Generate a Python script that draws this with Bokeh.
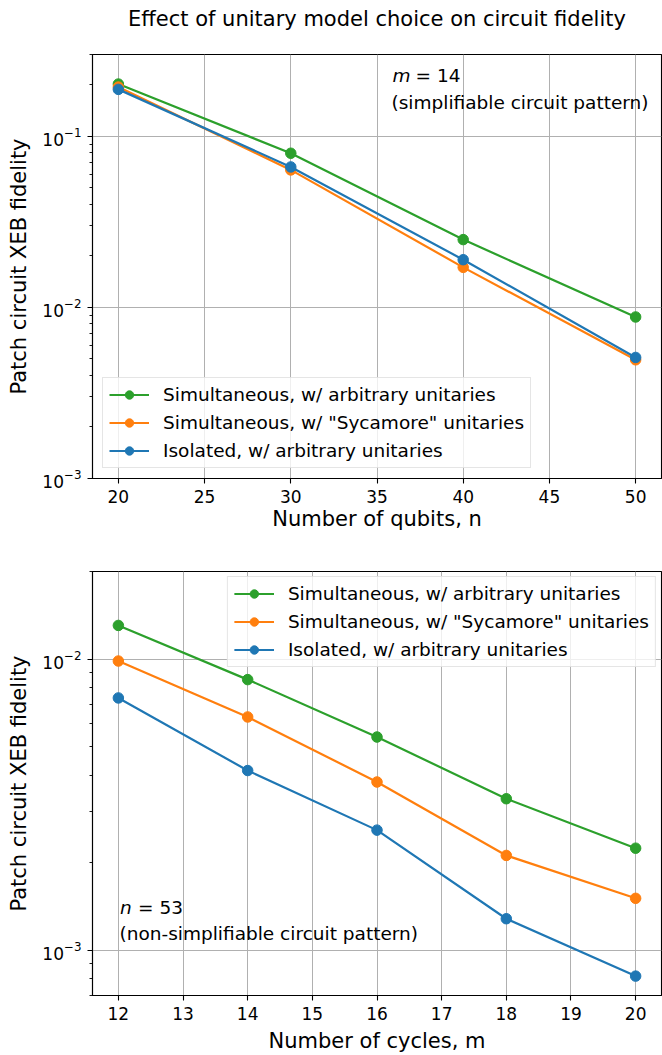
from bokeh.plotting import figure
from bokeh.models import Range1d, FixedTicker, Label, Title
from bokeh.layouts import column
from bokeh.embed import file_html
from bokeh.resources import INLINE

# ---------------- data ----------------
qubits = [20, 30, 40, 50]
top_sim_arb = [0.202, 0.0796, 0.0249, 0.00879]
top_sim_syc = [0.194, 0.0636, 0.01714, 0.00494]
top_iso_arb = [0.188, 0.0662, 0.0190, 0.00510]

cycles = [12, 14, 16, 18, 20]
bot_sim_arb = [0.01308, 0.00852, 0.00541, 0.00332, 0.002245]
bot_sim_syc = [0.00987, 0.00634, 0.00379, 0.00212, 0.00151]
bot_iso_arb = [0.00737, 0.00415, 0.00259, 0.001285, 0.000816]

series_labels = [
    "Simultaneous, w/ arbitrary unitaries",
    'Simultaneous, w/ "Sycamore" unitaries',
    "Isolated, w/ arbitrary unitaries",
]
series_colors = ["#2ca02c", "#ff7f0e", "#1f77b4"]

top_x_ticks = [20, 25, 30, 35, 40, 45, 50]
bot_x_ticks = [12, 13, 14, 15, 16, 17, 18, 19, 20]
y_major_ticks = [1e-3, 1e-2, 1e-1]
top_y_minor = [2e-3, 3e-3, 4e-3, 5e-3, 6e-3, 7e-3, 8e-3, 9e-3,
               2e-2, 3e-2, 4e-2, 5e-2, 6e-2, 7e-2, 8e-2, 9e-2, 2e-1, 3e-1]
bot_y_minor = [7e-4, 8e-4, 9e-4, 2e-3, 3e-3, 4e-3, 5e-3, 6e-3, 7e-3, 8e-3, 9e-3, 2e-2]

title_text = "Effect of unitary model choice on circuit fidelity"
y_label = "Patch circuit XEB fidelity"
top_x_label = "Number of qubits, n"
bot_x_label = "Number of cycles, m"

FONT = "DejaVu Sans"
W = 662


def style(p, xticks, yminor):
    p.background_fill_color = "white"
    p.border_fill_color = "white"
    p.outline_line_color = "black"
    p.outline_line_width = 1.1
    p.outline_line_alpha = 1
    p.xaxis.ticker = FixedTicker(ticks=xticks)
    p.yaxis.ticker = FixedTicker(ticks=y_major_ticks, minor_ticks=yminor)
    for ax in p.axis:
        ax.axis_line_color = "black"
        ax.axis_line_width = 1.1
        ax.major_tick_line_color = "black"
        ax.major_tick_line_width = 1.1
        ax.minor_tick_line_color = "black"
        ax.minor_tick_line_width = 0.9
        ax.major_tick_out = 5
        ax.major_tick_in = 0
        ax.minor_tick_out = 3
        ax.minor_tick_in = 0
        ax.major_label_text_font = FONT
        ax.major_label_text_font_size = "17px"
        ax.major_label_text_color = "black"
        ax.axis_label_text_font = FONT
        ax.axis_label_text_font_size = "21px"
        ax.axis_label_text_font_style = "normal"
        ax.axis_label_text_color = "black"
    p.xaxis.major_label_standoff = 6
    p.yaxis.major_label_standoff = 6
    p.yaxis.axis_label_standoff = 8
    p.xgrid.grid_line_color = "#b0b0b0"
    p.ygrid.grid_line_color = "#b0b0b0"
    p.xgrid.grid_line_width = 1
    p.ygrid.grid_line_width = 1


def add_series(p, xs, ys_list):
    for ys, lab, col in zip(ys_list, series_labels, series_colors):
        p.line(xs, ys, line_color=col, line_width=2.2, legend_label=lab)
        p.scatter(xs, ys, size=10.5, fill_color=col, line_color=col, legend_label=lab)


def style_legend(p, loc, margin):
    lg = p.legend[0]
    lg.location = loc
    lg.margin = margin
    lg.label_text_font = FONT
    lg.label_text_font_size = "18.5px"
    lg.label_text_color = "black"
    lg.glyph_width = 40
    lg.glyph_height = 21
    lg.label_height = 21
    lg.label_standoff = 14
    lg.spacing = 7
    lg.padding = 6
    lg.border_line_color = "#cccccc"
    lg.border_line_width = 1
    lg.background_fill_color = "white"
    lg.background_fill_alpha = 0.8


def add_label(p, x, y, text, italic=False):
    p.add_layout(Label(x=x, y=y, x_units="screen", y_units="screen", text=text,
                       text_font=FONT, text_font_size="18.5px",
                       text_font_style="italic" if italic else "normal",
                       text_baseline="middle", text_align="left", text_color="black"))


# ---------------- top figure ----------------
p1 = figure(width=W, height=538, y_axis_type="log",
            x_range=Range1d(18.5, 51.5), y_range=Range1d(1e-3, 0.3006),
            output_backend="svg", toolbar_location=None,
            min_border_left=92, min_border_right=1, min_border_top=54, min_border_bottom=60,
            title=None)
style(p1, top_x_ticks, top_y_minor)
p1.xaxis.axis_label = top_x_label
p1.xaxis.axis_label_standoff = 1
p1.yaxis.axis_label = y_label
# spacer between the frame and the title, then the title itself
p1.add_layout(Title(text=" ", text_font=FONT, text_font_size="19px", standoff=0), "above")
p1.add_layout(Title(text=title_text, text_font=FONT, text_font_size="21px",
                    text_font_style="normal", align="center", text_color="black",
                    standoff=0), "above")
add_series(p1, qubits, [top_sim_arb, top_sim_syc, top_iso_arb])
style_legend(p1, "bottom_left", 10)
add_label(p1, 300, 403, "m", italic=True)
add_label(p1, 323, 403, "= 14")
add_label(p1, 299, 376, "(simplifiable circuit pattern)")

# ---------------- bottom figure ----------------
p2 = figure(width=W, height=517, y_axis_type="log",
            x_range=Range1d(11.6, 20.4), y_range=Range1d(7.0e-4, 0.02004),
            output_backend="svg", toolbar_location=None,
            min_border_left=92, min_border_right=1, min_border_top=33, min_border_bottom=60)
style(p2, bot_x_ticks, bot_y_minor)
p2.xaxis.axis_label = bot_x_label
p2.xaxis.axis_label_standoff = 6
p2.yaxis.axis_label = y_label
add_series(p2, cycles, [bot_sim_arb, bot_sim_syc, bot_iso_arb])
style_legend(p2, "top_right", 5)
add_label(p2, 27.5, 88, "n", italic=True)
add_label(p2, 45.5, 88, "= 53")
add_label(p2, 27, 62, "(non-simplifiable circuit pattern)")

layout = column(p1, p2, spacing=0)
open("out.html", "w").write(file_html(layout, INLINE))
